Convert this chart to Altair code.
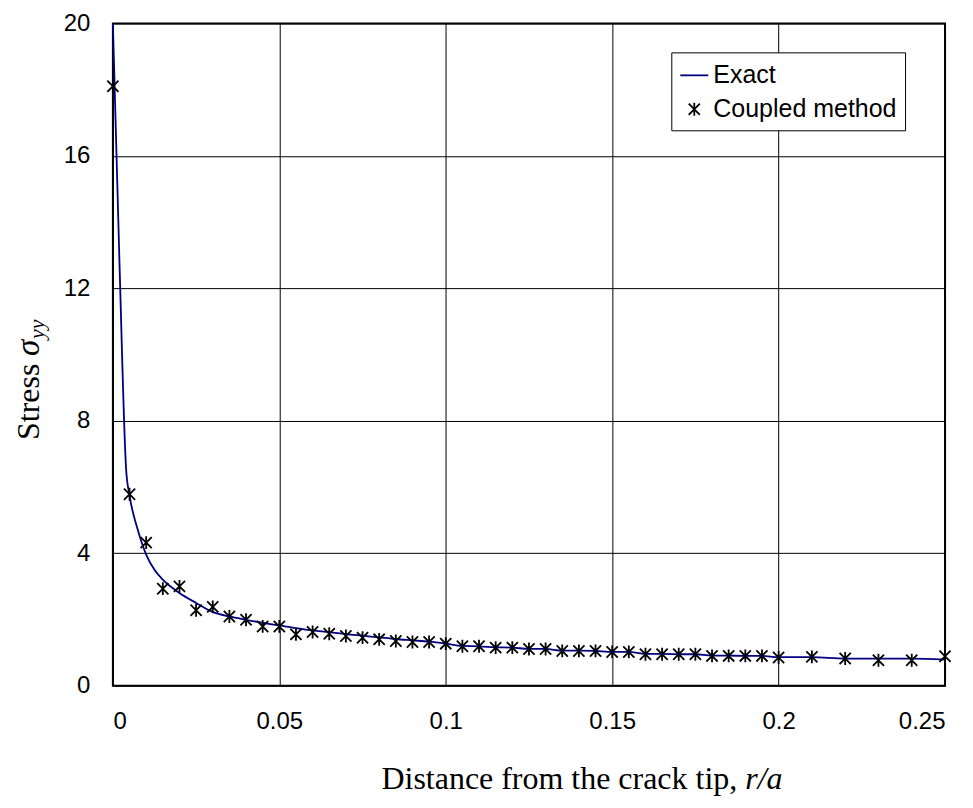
import altair as alt
import pandas as pd

# ---- data ----
exact_x = [0, 0.002, 0.004, 0.005, 0.0075, 0.01, 0.0125, 0.015, 0.02, 0.025, 0.03,
           0.035, 0.04, 0.045, 0.05, 0.055, 0.06, 0.065, 0.07, 0.075, 0.08, 0.085,
           0.09, 0.095, 0.1, 0.105, 0.11, 0.115, 0.12, 0.125, 0.13, 0.135, 0.14,
           0.145, 0.15, 0.155, 0.16, 0.165, 0.17, 0.175, 0.18, 0.185, 0.19, 0.195,
           0.2, 0.21, 0.22, 0.23, 0.24, 0.25]
exact_y = [20, 12.7, 6.5, 5.75, 4.7, 3.96, 3.5, 3.2, 2.8, 2.5, 2.23,
           2.09, 1.99, 1.90, 1.82, 1.74, 1.67, 1.62, 1.56, 1.51, 1.46, 1.41,
           1.37, 1.33, 1.27, 1.20, 1.19, 1.16, 1.15, 1.11, 1.11, 1.06, 1.06,
           1.05, 1.02, 1.02, 0.96, 0.96, 0.95, 0.95, 0.91, 0.91, 0.90, 0.90,
           0.86, 0.86, 0.82, 0.82, 0.82, 0.79]

coupled_x = [0, 0.005, 0.01, 0.015, 0.02, 0.025, 0.03, 0.035, 0.04, 0.045, 0.05,
             0.055, 0.06, 0.065, 0.07, 0.075, 0.08, 0.085, 0.09, 0.095, 0.1,
             0.105, 0.11, 0.115, 0.12, 0.125, 0.13, 0.135, 0.14, 0.145, 0.15,
             0.155, 0.16, 0.165, 0.17, 0.175, 0.18, 0.185, 0.19, 0.195, 0.2,
             0.21, 0.22, 0.23, 0.24, 0.25]
coupled_y = [18.1, 5.78, 4.32, 2.93, 3.0, 2.28, 2.38, 2.09, 1.99, 1.79, 1.79,
             1.55, 1.62, 1.57, 1.50, 1.45, 1.40, 1.35, 1.32, 1.32, 1.27,
             1.19, 1.19, 1.15, 1.15, 1.11, 1.11, 1.05, 1.05, 1.05, 1.02,
             1.02, 0.95, 0.95, 0.95, 0.95, 0.90, 0.90, 0.90, 0.90, 0.85,
             0.87, 0.82, 0.77, 0.77, 0.89]

series_names = ["Exact", "Coupled method"]
x_ticks = [0, 0.05, 0.1, 0.15, 0.2, 0.25]
y_ticks = [0, 4, 8, 12, 16, 20]

STAR = "M-0.4,-0.4L0.4,0.4M-0.4,0.4L0.4,-0.4M0,-0.46L0,0.46"

df = pd.concat([
    pd.DataFrame({"x": exact_x, "y": exact_y, "series": series_names[0]}),
    pd.DataFrame({"x": coupled_x, "y": coupled_y, "series": series_names[1]}),
], ignore_index=True)

TOP = 15
W, H = 833, 678 - TOP

xs = alt.Scale(domain=[0, 0.25], nice=False, zero=False)
ys = alt.Scale(domain=[0, 20], nice=False)

x_enc = alt.X("x:Q", scale=xs,
              axis=alt.Axis(values=x_ticks, format="~g", title=None,
                            labelPadding=24, grid=True))
y_enc = alt.Y("y:Q", scale=ys,
              axis=alt.Axis(values=y_ticks, title=None, labelPadding=23, grid=True))

base = alt.Chart(df)

line = base.transform_filter(alt.datum.series == "Exact").mark_line(
    color="#000080", strokeWidth=1.8, interpolate="monotone"
).encode(x=x_enc, y=y_enc, order="x:Q")

leg = alt.Legend(title=None, orient="none", legendX=559, legendY=52 - 8 - TOP,
                 padding=8, strokeColor="black", fillColor="white",
                 labelFont="Liberation Sans", labelFontSize=25, labelColor="black",
                 symbolSize=784, symbolStrokeWidth=1.8, rowPadding=6,
                 labelOffset=4, labelLimit=500, cornerRadius=0)

pts = base.transform_filter(alt.datum.series == "Coupled method").mark_point(
    filled=False, size=784, strokeWidth=1.8, opacity=1
).encode(
    x=x_enc, y=y_enc,
    color=alt.Color("series:N", scale=alt.Scale(domain=series_names,
                                                range=["#000080", "#000000"]),
                    legend=leg),
    shape=alt.Shape("series:N", scale=alt.Scale(domain=series_names,
                                                range=["stroke", STAR]),
                    legend=leg),
)

def txt(s, x, y, size, style="normal", align="left", angle=0):
    return alt.Chart(pd.DataFrame({"t": [s]})).mark_text(
        font="Liberation Serif", fontSize=size, fontStyle=style, align=align,
        baseline="alphabetic", angle=angle, color="black"
    ).encode(x=alt.value(x), y=alt.value(y), text="t:N")

# page coordinates converted to plot coordinates (origin at 113, 8 + TOP)
OY = 8 + TOP
xt1 = txt("Distance from the crack tip,", 625, 789 - OY, 32, align="right")
xt2 = txt("r/a", 633, 789 - OY, 32, style="italic", align="left")

yt1 = txt("Stress", 39 - 113, 440 - OY, 32, angle=270)
yt2 = txt("σ", 39 - 113, 356 - OY, 33, style="italic", angle=270)
yt3 = txt("yy", 44 - 113, 339 - OY, 22, style="italic", angle=270)

chart = alt.layer(line, pts, xt1, xt2, yt1, yt2, yt3).properties(
    width=W, height=H,
    autosize=alt.AutoSizeParams(type="none"),
    padding={"left": 105, "top": TOP, "right": 20, "bottom": 110},
).configure_view(
    stroke="black", strokeWidth=2
).configure_axis(
    gridColor="black", gridWidth=1, gridOpacity=1, domain=False, ticks=False,
    tickSize=0, labelFont="Liberation Sans", labelFontSize=24, labelColor="black",
)

chart.save("out.html", embed_options={"renderer": "svg", "actions": False})
